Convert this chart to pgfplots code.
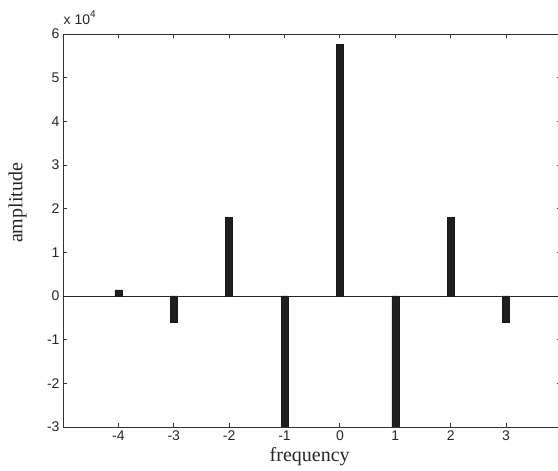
\documentclass[border=0pt]{standalone}
\usepackage{pgfplots}
\pgfplotsset{compat=1.18}
\usepackage{fontspec}
\setmainfont{Liberation Serif}
\newfontfamily\arialfont{Liberation Sans}
\begin{document}
\begin{tikzpicture}
\begin{axis}[name=ax, scale only axis, width=498.4bp, height=393bp,
  xmin=-5, xmax=4, ymin=-30000, ymax=60000,
  xtick={-4,-3,-2,-1,0,1,2,3},
  xticklabels={-4,-3,-2,-1,0,1,2,3},
  ytick={-30000,-20000,-10000,0,10000,20000,30000,40000,50000,60000},
  yticklabels={-3,-2,-1,0,1,2,3,4,5,6},
  scaled y ticks=false,
  tick align=inside, major tick length=4bp,
  tick style={black!80, line width=0.8pt},
  axis line style={black!80, line width=0.9pt},
  ticklabel style={font=\arialfont\fontsize{14bp}{16bp}\selectfont, text=black!85},
  /pgf/number format/assume math mode=true,
  xlabel={frequency}, ylabel={amplitude},
  label style={font=\fontsize{20bp}{22bp}\selectfont, text=black!85},
  xlabel style={at={(axis description cs:0.495,0)}, anchor=base, yshift=-35bp},
  ylabel style={at={(axis description cs:-0.0913,0.57)}, anchor=center},
  clip=true,
]
\addplot[black!85, line width=0.9pt, forget plot] coordinates {(-5,0) (4,0)};
\addplot[ybar, bar width=7bp, bar shift=0pt, fill=black!88, draw=black!90, line width=0.4pt]
  coordinates {(-4,1400) (-3,-6000) (-2,18000) (-1,-30000) (0,57700) (1,-30000) (2,18000) (3,-6000)};
\end{axis}
\node[anchor=base west, font=\arialfont\fontsize{14bp}{16bp}\selectfont, text=black!85, inner sep=0pt]
  at ([xshift=0.5bp,yshift=9bp]ax.north west) {x 10\raisebox{0.55em}{\fontsize{10bp}{12bp}\selectfont 4}};
\pgfresetboundingbox
\path[use as bounding box] ([xshift=-63bp,yshift=-44bp]ax.south west) rectangle ([xshift=-3.4bp,yshift=34bp]ax.north east);
\end{tikzpicture}
\end{document}
